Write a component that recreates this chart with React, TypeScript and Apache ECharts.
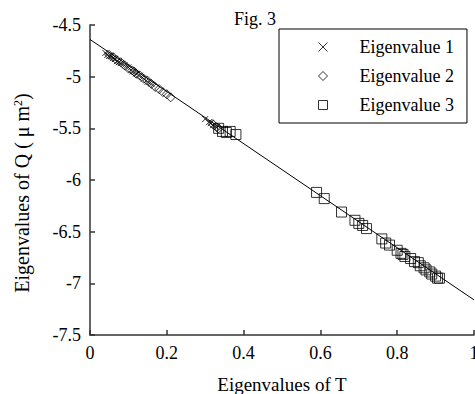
import React, { useEffect, useRef } from "react";
import * as echarts from "echarts";

const xTicks = [0, 0.2, 0.4, 0.6, 0.8, 1];
const yTicks = [-7.5, -7, -6.5, -6, -5.5, -5, -4.5];

const ev1X = [0.04, 0.045, 0.05, 0.055, 0.06, 0.065, 0.07, 0.075, 0.08, 0.09, 0.1, 0.11, 0.12, 0.13, 0.14, 0.15, 0.16, 0.3, 0.31, 0.315, 0.32, 0.33];
const ev1Y = [-4.77, -4.79, -4.8, -4.8, -4.82, -4.83, -4.85, -4.86, -4.87, -4.89, -4.91, -4.95, -4.97, -4.99, -5.02, -5.05, -5.07, -5.41, -5.44, -5.45, -5.47, -5.49];

const ev2X = [0.05, 0.06, 0.07, 0.08, 0.09, 0.1, 0.11, 0.115, 0.12, 0.13, 0.14, 0.15, 0.16, 0.17, 0.18, 0.19, 0.2, 0.21, 0.32, 0.33, 0.335];
const ev2Y = [-4.79, -4.81, -4.84, -4.86, -4.89, -4.92, -4.94, -4.95, -4.97, -4.99, -5.02, -5.04, -5.07, -5.1, -5.12, -5.15, -5.17, -5.2, -5.46, -5.49, -5.5];

const ev3X = [0.335, 0.345, 0.355, 0.365, 0.38, 0.59, 0.61, 0.655, 0.69, 0.7, 0.71, 0.72, 0.76, 0.77, 0.78, 0.8, 0.81, 0.815, 0.82, 0.835, 0.845, 0.855, 0.86, 0.87, 0.875, 0.885, 0.89, 0.9, 0.905, 0.91];
const ev3Y = [-5.5, -5.53, -5.54, -5.53, -5.56, -6.12, -6.18, -6.31, -6.39, -6.42, -6.44, -6.47, -6.57, -6.61, -6.63, -6.68, -6.71, -6.72, -6.74, -6.76, -6.79, -6.8, -6.83, -6.85, -6.87, -6.89, -6.91, -6.93, -6.95, -6.95];

const fitX = [0, 1];
const fitY = [-4.64, -7.16];

const seriesNames = ["Eigenvalue 1", "Eigenvalue 2", "Eigenvalue 3"];

const FONT = "Liberation Serif";
const zip = (xs: number[], ys: number[]) => xs.map((x, i) => [x, ys[i]]);

export default function App() {
  const ref = useRef<HTMLDivElement>(null);
  useEffect(() => {
    if (!ref.current) return;
    const chart = echarts.init(ref.current, undefined, { renderer: "svg" });
    const markerStyle = { color: "rgba(0,0,0,0)", borderColor: "#000", borderWidth: 1 };
    chart.setOption({
      animation: false,
      backgroundColor: "#fff",
      title: {
        text: "Fig. 3",
        left: 229,
        top: 5,
        textStyle: { fontFamily: FONT, fontSize: 18, fontWeight: "normal", color: "#000" },
      },
      legend: {
        data: seriesNames,
        orient: "vertical",
        left: 279,
        top: 29,
        padding: [9, 13, 9, 39],
        itemWidth: 9,
        itemHeight: 9,
        itemGap: 11,
        symbolKeepAspect: true,
        borderColor: "#000",
        borderWidth: 1,
        backgroundColor: "#fff",
        itemStyle: { borderWidth: 1 },
        textStyle: { fontFamily: FONT, fontSize: 18, color: "#000", padding: [0, 0, 0, 27] },
      },
      grid: { left: 90, top: 25, right: 1, bottom: 59, outerBoundsMode: "none", containLabel: false },
      xAxis: {
        type: "value",
        min: xTicks[0],
        max: xTicks[xTicks.length - 1],
        interval: 0.2,
        name: "Eigenvalues of T",
        nameLocation: "middle",
        nameGap: 40,
        nameTextStyle: { fontFamily: FONT, fontSize: 19, color: "#000" },
        axisLine: { lineStyle: { color: "#333", width: 1.5 } },
        axisTick: { inside: true, length: 5, lineStyle: { color: "#333", width: 1.5 } },
        axisLabel: { fontFamily: FONT, fontSize: 18, color: "#000", margin: 9 },
        splitLine: { show: false },
      },
      yAxis: {
        type: "value",
        min: yTicks[0],
        max: yTicks[yTicks.length - 1],
        interval: 0.5,
        name: "{a|Eigenvalues of Q ( μ m}{sup|2}{a|)}",
        nameLocation: "middle",
        nameGap: 58,
        nameTextStyle: {
          fontFamily: FONT,
          fontSize: 20,
          color: "#000",
          padding: [0, 26, 0, 0],
          rich: {
            a: { fontFamily: FONT, fontSize: 20, color: "#000" },
            sup: { fontFamily: FONT, fontSize: 12, color: "#000", verticalAlign: "top", padding: [0, 0, 8, 0] },
          },
        },
        axisLine: { lineStyle: { color: "#333", width: 1.5 } },
        axisTick: { inside: true, length: 5, lineStyle: { color: "#333", width: 1.5 } },
        axisLabel: { fontFamily: FONT, fontSize: 18, color: "#000", margin: 9 },
        splitLine: { show: false },
      },
      series: [
        {
          name: "fit",
          type: "line",
          data: zip(fitX, fitY),
          showSymbol: false,
          symbol: "none",
          lineStyle: { color: "#000", width: 1 },
          silent: true,
          z: 1,
        },
        {
          name: seriesNames[0],
          type: "scatter",
          symbol: "path://M0 0L10 10M10 0L0 10",
          symbolSize: 6,
          itemStyle: markerStyle,
          data: zip(ev1X, ev1Y),
          z: 3,
        },
        {
          name: seriesNames[1],
          type: "scatter",
          symbol: "diamond",
          symbolSize: 9,
          itemStyle: markerStyle,
          data: zip(ev2X, ev2Y),
          z: 3,
        },
        {
          name: seriesNames[2],
          type: "scatter",
          symbol: "rect",
          symbolSize: 10,
          itemStyle: markerStyle,
          data: zip(ev3X, ev3Y),
          z: 3,
        },
      ],
    });
    return () => chart.dispose();
  }, []);
  return (
    <div
      ref={ref}
      style={{ position: "absolute", left: 0, top: 0, width: 475, height: 394 }}
    />
  );
}
